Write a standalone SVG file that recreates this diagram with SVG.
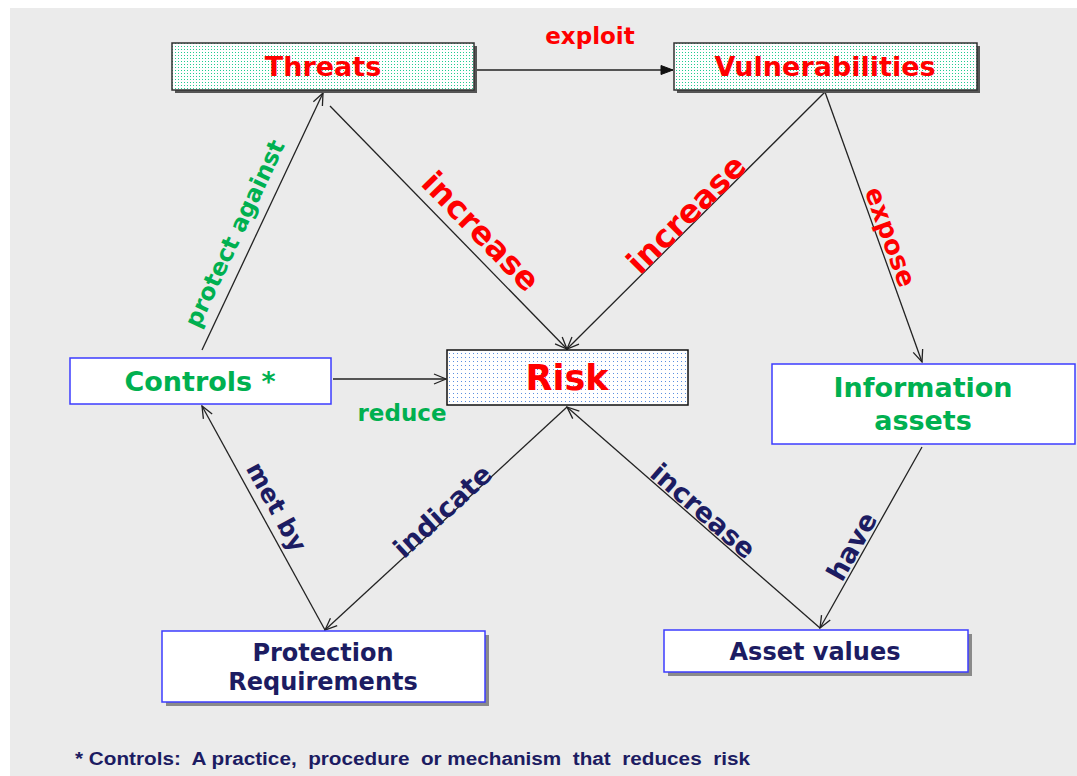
<svg xmlns="http://www.w3.org/2000/svg" width="1077" height="776" viewBox="0 0 1077 776">
<defs>
<pattern id="tealDots" width="3" height="3" patternUnits="userSpaceOnUse"><rect width="3" height="3" fill="#ffffff"/><rect x="1" y="1" width="1" height="1" fill="#22cc90"/></pattern>
<pattern id="blueDots" width="4" height="4" patternUnits="userSpaceOnUse"><rect width="4" height="4" fill="#ffffff"/><rect x="1" y="1" width="1" height="1" fill="#5b8fe0"/></pattern>
<marker id="arr" markerWidth="14" markerHeight="12" refX="13" refY="6" orient="auto" markerUnits="userSpaceOnUse"><path d="M1,1 L13,6 L1,11" fill="none" stroke="#222" stroke-width="1.3"/></marker>
<marker id="arrF" markerWidth="14" markerHeight="12" refX="13" refY="6" orient="auto" markerUnits="userSpaceOnUse"><path d="M1,1.5 L13,6 L1,10.5 Z" fill="#111" stroke="#111"/></marker>
</defs>
<style>
.t{font-family:"DejaVu Sans","Verdana",sans-serif;font-weight:bold;text-anchor:middle}
.red{fill:#ff0000}
.grn{fill:#00b050}
.nav{fill:#1c1c62}
.c{stroke:#222;stroke-width:1.3;fill:none;marker-end:url(#arr)}
.wb{fill:#ffffff;stroke:#3c3cff;stroke-width:1.5}
</style>
<rect width="1077" height="776" fill="#ffffff"/>
<rect x="10" y="8" width="1067" height="768" fill="#ebebeb"/>

<g id="connectors">
<line class="c" x1="474" y1="70" x2="673" y2="70" style="marker-end:url(#arrF)"/>
<line class="c" x1="202" y1="350" x2="323" y2="93"/>
<line class="c" x1="330" y1="106" x2="567" y2="349"/>
<line class="c" x1="825" y1="92" x2="567" y2="349"/>
<line class="c" x1="825" y1="92" x2="922" y2="362"/>
<line class="c" x1="333" y1="379" x2="446" y2="379"/>
<line class="c" x1="325" y1="630" x2="202" y2="406"/>
<line class="c" x1="567" y1="407" x2="325" y2="630"/>
<line class="c" x1="820" y1="628" x2="567" y2="407"/>
<line class="c" x1="922" y1="447" x2="820" y2="628"/>
</g>

<g id="threats">
<rect x="175" y="46" width="302" height="47" fill="#555"/>
<rect x="172" y="43" width="302" height="47" fill="url(#tealDots)" stroke="#333" stroke-width="1.5"/>
<text class="t red" x="323" y="76" font-size="27">Threats</text>
</g>
<g id="vulnerabilities">
<rect x="677" y="46" width="303" height="47" fill="#555"/>
<rect x="674" y="43" width="303" height="47" fill="url(#tealDots)" stroke="#333" stroke-width="1.5"/>
<text class="t red" x="825" y="76" font-size="27">Vulnerabilities</text>
</g>
<g id="risk">
<rect x="447" y="350" width="241" height="55" fill="url(#blueDots)" stroke="#111" stroke-width="1.5"/>
<text class="t red" x="567" y="390" font-size="35">Risk</text>
</g>
<g id="controls">
<rect class="wb" x="70" y="358" width="261" height="46"/>
<text class="t grn" x="200" y="391" font-size="27">Controls *</text>
</g>
<g id="information-assets">
<rect class="wb" x="772" y="364" width="303" height="80"/>
<text class="t grn" x="923" y="397" font-size="27">Information</text>
<text class="t grn" x="923" y="430" font-size="27">assets</text>
</g>
<g id="protection-requirements">
<rect x="166" y="635" width="323" height="71" fill="#8a8a8a"/>
<rect class="wb" x="162" y="631" width="323" height="71"/>
<text class="t nav" x="323" y="661" font-size="24">Protection</text>
<text class="t nav" x="323" y="690" font-size="24">Requirements</text>
</g>
<g id="asset-values">
<rect x="668" y="634" width="304" height="42" fill="#8a8a8a"/>
<rect class="wb" x="664" y="630" width="304" height="42"/>
<text class="t nav" x="815" y="660" font-size="24">Asset values</text>
</g>

<g id="labels">
<text class="t red" x="590" y="44" font-size="23">exploit</text>
<text class="t grn" font-size="23.5" transform="translate(242,237) rotate(-64.9)">protect against</text>
<text class="t red" font-size="32" transform="translate(473,239) rotate(45.7)">increase</text>
<text class="t red" font-size="32" transform="translate(694,222) rotate(-44.9)">increase</text>
<text class="t red" font-size="26" transform="translate(882,240) rotate(70.2)">expose</text>
<text class="t grn" x="402" y="421" font-size="23">reduce</text>
<text class="t nav" font-size="25" transform="translate(269,511) rotate(61.2)">met by</text>
<text class="t nav" font-size="27" transform="translate(449,518) rotate(-42.7)">indicate</text>
<text class="t nav" font-size="27" transform="translate(697,518) rotate(41.1)">increase</text>
<text class="t nav" font-size="27" transform="translate(860,551) rotate(-60.6)">have</text>
</g>

<text x="75" y="765" xml:space="preserve" style="white-space:pre" font-family="Liberation Sans, Arial, sans-serif" font-weight="bold" font-size="18" fill="#1c1c62" textLength="675" lengthAdjust="spacingAndGlyphs">* Controls:  A practice,  procedure  or mechanism  that  reduces  risk</text>
</svg>
